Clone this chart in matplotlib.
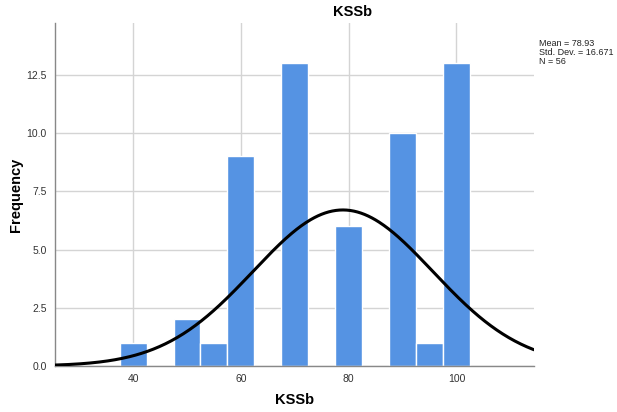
import numpy as np
import matplotlib.pyplot as plt

plt.rcParams['font.family'] = ['Liberation Sans', 'DejaVu Sans']

# histogram data (bin centres, width 5)
bin_centers = [40, 50, 55, 60, 70, 80, 90, 95, 100]
counts = [1, 2, 1, 9, 13, 6, 10, 1, 13]
bin_width = 5

mean = 78.93
std = 16.671
n = 56

fig = plt.figure(figsize=(6.17, 4.12), dpi=100)
ax = fig.add_axes([0.0891, 0.1117, 0.7764, 0.8325])

ax.bar(bin_centers, counts, width=bin_width, color='#5593e3',
       edgecolor='white', linewidth=1, zorder=2)

# normal curve scaled to counts
x = np.linspace(25.5, 114.4, 400)
y = n * bin_width / (std * np.sqrt(2 * np.pi)) * np.exp(-0.5 * ((x - mean) / std) ** 2)
ax.plot(x, y, color='black', linewidth=2.2, zorder=3, solid_capstyle='round')

ax.set_xlim(25.5, 114.4)
ax.set_ylim(0, 14.73)
ax.set_xticks([40, 60, 80, 100])
ax.set_yticks([0, 2.5, 5, 7.5, 10, 12.5])
ax.set_yticklabels(['0.0', '2.5', '5.0', '7.5', '10.0', '12.5'])
ax.tick_params(labelsize=7.5, length=0, colors='#333333', pad=6)

ax.grid(True, color='#d4d4d4', linewidth=1, zorder=0)
ax.set_axisbelow(True)
for s in ['top', 'right']:
    ax.spines[s].set_visible(False)
for s in ['left', 'bottom']:
    ax.spines[s].set_color('#888888')
    ax.spines[s].set_linewidth(1)

fig.text(0.478, 0.028, 'KSSb', fontsize=10.5, fontweight='bold', ha='center', va='center')
fig.text(0.026, 0.528, 'Frequency', fontsize=10.5, fontweight='bold', ha='center',
         va='center', rotation=90)
fig.text(0.572, 0.972, 'KSSb', fontsize=10.5, fontweight='bold', ha='center', va='center')

fig.text(0.873, 0.905, 'Mean = %.2f\nStd. Dev. = %.3f\nN = %d' % (mean, std, n),
         fontsize=6.5, va='top', ha='left', linespacing=1.0, color='#222222')

fig.savefig('out.png', dpi=100)
